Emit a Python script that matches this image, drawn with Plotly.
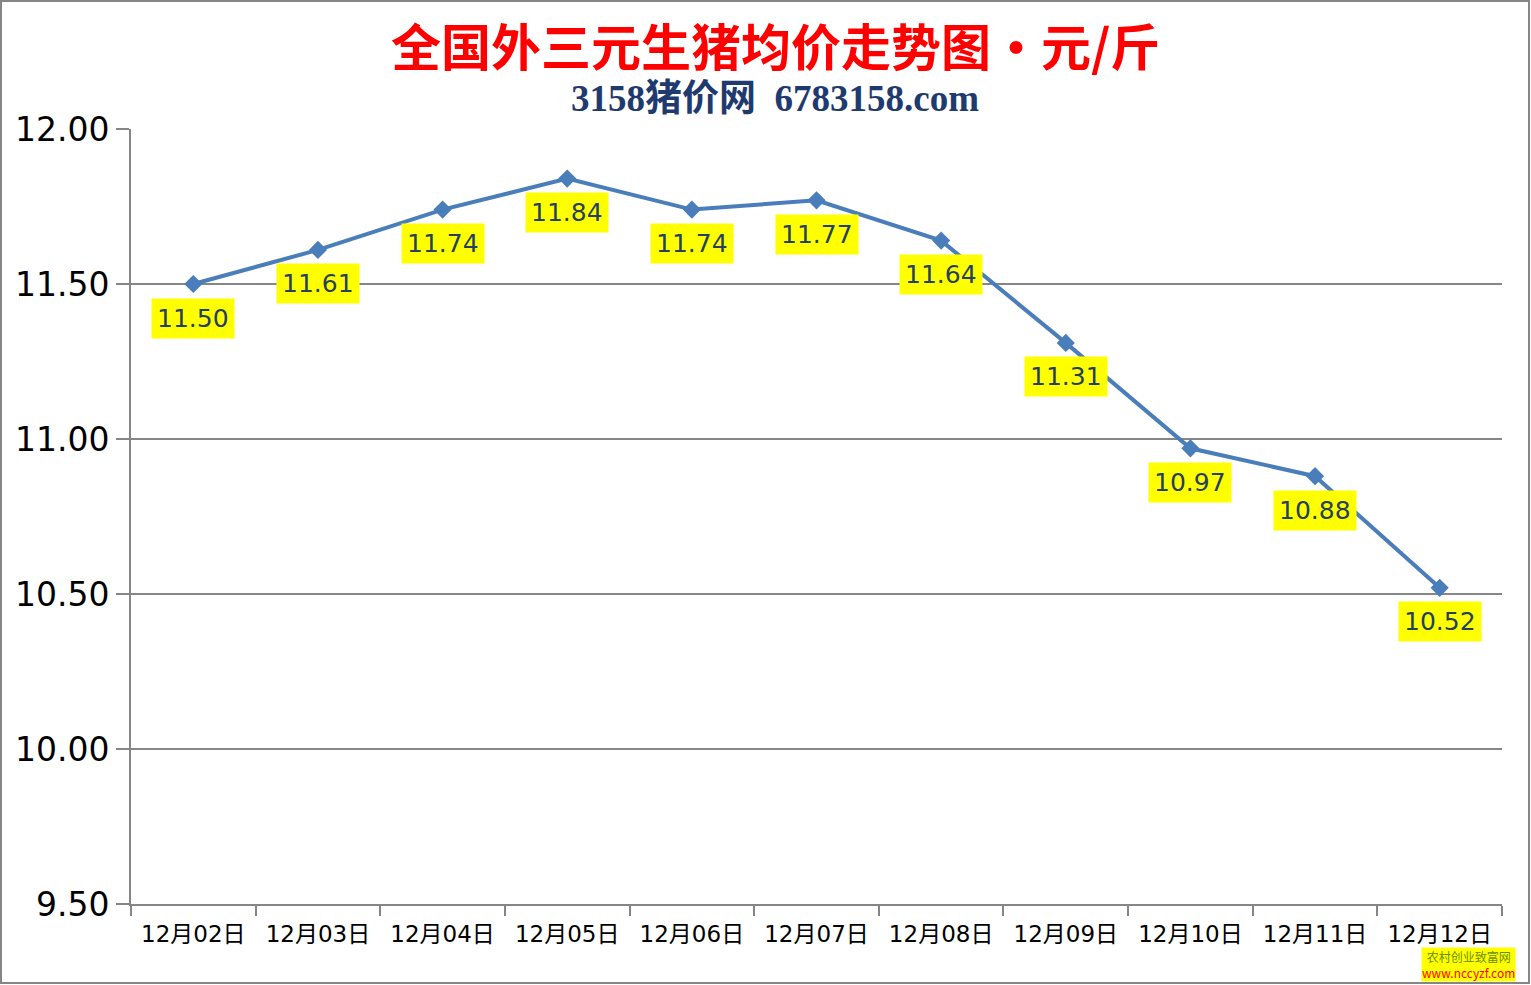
import plotly.graph_objects as go

dates = ["12月02日", "12月03日", "12月04日", "12月05日", "12月06日", "12月07日",
         "12月08日", "12月09日", "12月10日", "12月11日", "12月12日"]
prices = [11.50, 11.61, 11.74, 11.84, 11.74, 11.77, 11.64, 11.31, 10.97, 10.88, 10.52]
y_ticks = [9.5, 10.0, 10.5, 11.0, 11.5, 12.0]

W, H = 1531, 985
L, R, T, B = 131, 29, 129, 81
pw, ph = W - L - R, H - T - B

fig = go.Figure()
fig.add_trace(go.Scatter(
    x=dates, y=prices, mode="lines+markers",
    line=dict(color="#4A7EBB", width=4),
    marker=dict(symbol="diamond", size=14, color="#4A7EBB"),
    hoverinfo="x+y", showlegend=False,
))

annotations = []
for d, p in zip(dates, prices):
    annotations.append(dict(
        x=d, y=p, xref="x", yref="y", text=f"{p:.2f}", showarrow=False,
        yshift=-34, bgcolor="#FFFF00", borderpad=5,
        font=dict(family="DejaVu Sans", size=25, color="#243F60"),
    ))

annotations += [
    dict(text="<b>全国外三元生猪均价走势图・元/斤</b>", xref="paper", yref="paper",
         x=(775 - L) / pw, y=(H - B - 44) / ph, xanchor="center", yanchor="middle",
         showarrow=False, font=dict(family="Noto Sans CJK SC", size=50, color="#FF0000")),
    dict(text="<b>3158猪价网  6783158.com</b>", xref="paper", yref="paper",
         x=(775 - L) / pw, y=(H - B - 99) / ph, xanchor="center", yanchor="middle",
         showarrow=False, font=dict(family="Liberation Serif, Noto Sans CJK SC", size=37, color="#1F3A6E")),
    dict(text="农村创业致富网<br><span style='color:#FF0000'>www.nccyzf.com</span>",
         xref="paper", yref="paper",
         x=(1468 - L) / pw, y=(H - B - 964) / ph, xanchor="center", yanchor="middle",
         showarrow=False, bgcolor="#FFFF00", borderpad=0,
         font=dict(family="Noto Sans CJK SC", size=12, color="#6B8E00")),
]

fig.update_layout(
    width=W, height=H,
    margin=dict(l=L, r=R, t=T, b=B),
    paper_bgcolor="white", plot_bgcolor="white",
    annotations=annotations,
    shapes=[dict(type="rect", xref="paper", yref="paper",
                 x0=(1 - L) / pw, x1=(W - 2 - L) / pw,
                 y0=(H - B - (H - 2)) / ph, y1=(H - B - 1) / ph,
                 line=dict(color="#868686", width=2), fillcolor="rgba(0,0,0,0)", layer="below")],
    xaxis=dict(
        type="category", tickson="boundaries", showgrid=False,
        showline=True, linecolor="#868686", linewidth=2,
        ticks="outside", ticklen=10, tickcolor="#868686", tickwidth=2,
        ticklabelstandoff=8,
        tickfont=dict(family="DejaVu Sans, Noto Sans CJK SC", size=23, color="#000000"),
        range=[-0.5, len(dates) - 0.5],
    ),
    yaxis=dict(
        range=[9.5, 12.0], tickvals=y_ticks, tickformat=".2f",
        showgrid=True, gridcolor="#868686", gridwidth=1.5,
        showline=True, linecolor="#868686", linewidth=2,
        ticks="outside", ticklen=13, tickcolor="#868686", tickwidth=2,
        tickfont=dict(family="DejaVu Sans", size=33, color="#000000"),
        zeroline=False,
    ),
)

fig.write_html("out.html", config={"displayModeBar": False},
               post_script="document.body.style.margin='0';document.body.style.overflow='hidden';")
